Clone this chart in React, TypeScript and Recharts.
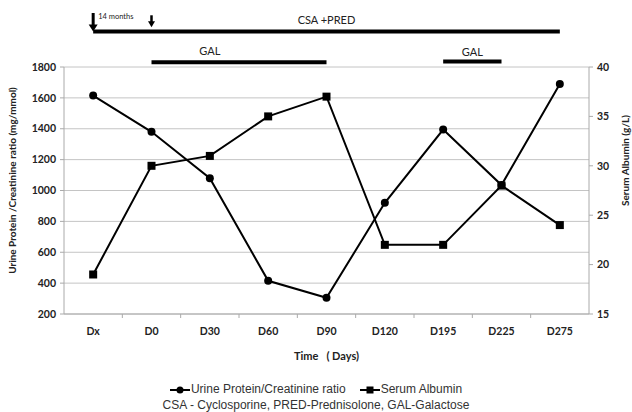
import React from 'react';
import {
  LineChart,
  Line,
  XAxis,
  YAxis,
  CartesianGrid,
  ReferenceLine,
  ReferenceDot,
  Legend,
} from 'recharts';

// time points and measured values
const days = ['Dx', 'D0', 'D30', 'D60', 'D90', 'D120', 'D195', 'D225', 'D275'];
const urineProtein = [1615, 1380, 1080, 415, 305, 920, 1395, 1035, 1690];
const serumAlbumin = [19, 30, 31, 35, 37, 22, 22, 28, 24];

const proteinTicks = [200, 400, 600, 800, 1000, 1200, 1400, 1600, 1800];
const albuminTicks = [15, 20, 25, 30, 35, 40];

// treatment bars drawn above the plot (level is in urine protein units)
const therapyBars = [
  { name: 'CSA +PRED', from: 'Dx', to: 'D275', level: 2030, labelAt: 'D90' },
  { name: 'GAL', from: 'D0', to: 'D90', level: 1830, labelAt: 'D30' },
  { name: 'GAL', from: 'D195', to: 'D225', level: 1835, labelAt: '' },
];

const arrows = [
  { at: 'Dx', top: 2150, tip: 2030, note: '14 months', heavy: true },
  { at: 'D0', top: 2135, tip: 2058, note: '', heavy: false },
];

const caption = 'CSA - Cyclosporine, PRED-Prednisolone, GAL-Galactose';

const seriesInfo = [
  { key: 'protein', name: 'Urine Protein/Creatinine ratio', marker: 'circle' },
  { key: 'albumin', name: 'Serum Albumin', marker: 'square' },
];

const data = days.map((d, i) => ({
  day: d,
  protein: urineProtein[i],
  albumin: serumAlbumin[i],
}));

const tickFont = { fontFamily: 'Lato, sans-serif', fontSize: 10.5, fontWeight: 700, fill: '#222' };

const SquareDot = (props: any) => {
  const { cx, cy } = props;
  if (cx == null || cy == null) return null;
  return <rect x={cx - 4} y={cy - 4} width={8} height={8} fill="#000" />;
};

const XTick = (props: any) => {
  const { x, y, payload, index, visibleTicksCount } = props;
  const half = payload.offset || 29;
  const axisY = y - 8;
  return (
    <g>
      <text x={x} y={y + 10} textAnchor="middle" dominantBaseline="middle" {...tickFont}>
        {payload.value}
      </text>
      {index < (visibleTicksCount ?? days.length) - 1 && (
        <line x1={x + half} x2={x + half} y1={axisY} y2={axisY + 4} stroke="#aaa" />
      )}
    </g>
  );
};

const makeArrow = (heavy: boolean, note: string) => (p: any) => {
  const { x1, y1, y2 } = p;
  const head = heavy ? 7 : 6;
  const hw = heavy ? 4.5 : 3.5;
  return (
    <g>
      <line x1={x1} x2={x1} y1={y1} y2={y2 - head + 1} stroke="#000" strokeWidth={heavy ? 3 : 2.5} />
      <polygon points={`${x1 - hw},${y2 - head} ${x1 + hw},${y2 - head} ${x1},${y2}`} fill="#000" />
      {note && (
        <text x={x1 + 5} y={y1 + 6} fontFamily="Lato, sans-serif" fontSize={7.5} fill="#222">
          {note}
        </text>
      )}
    </g>
  );
};

const LeftLabel = (props: any) => {
  const { viewBox } = props;
  const cx = viewBox.x - 11;
  const cy = viewBox.y + viewBox.height / 2 - 10;
  return (
    <text
      x={cx}
      y={cy}
      transform={`rotate(-90 ${cx} ${cy})`}
      textAnchor="middle"
      dominantBaseline="middle"
      fontFamily="Lato, sans-serif"
      fontSize={10}
      fontWeight={700}
      fill="#222"
    >
      Urine Protein /Creatinine ratio (mg/mmol)
    </text>
  );
};

const RightLabel = (props: any) => {
  const { viewBox } = props;
  const cx = viewBox.x + 37;
  const cy = viewBox.y + viewBox.height / 2 - 30;
  return (
    <text
      x={cx}
      y={cy}
      transform={`rotate(-90 ${cx} ${cy})`}
      textAnchor="middle"
      dominantBaseline="middle"
      fontFamily="Lato, sans-serif"
      fontSize={10}
      fontWeight={700}
      fill="#222"
    >
      Serum Albumin (g/L)
    </text>
  );
};

const LegendIcon = ({ marker }: { marker: string }) => (
  <svg width={20} height={10} style={{ verticalAlign: 'middle', marginRight: 1 }}>
    <line x1={0} x2={20} y1={5} y2={5} stroke="#000" strokeWidth={2} />
    {marker === 'circle' ? <circle cx={10} cy={5} r={3.5} fill="#000" /> : <rect x={6.5} y={1.5} width={7} height={7} fill="#000" />}
  </svg>
);

const LegendContent = () => (
  <div style={{ fontFamily: '"Liberation Sans", Arial, sans-serif', fontSize: 12, color: '#333', textAlign: 'center', lineHeight: '16px' }}>
    <div>
      {seriesInfo.map((s, i) => (
        <span key={s.key} style={{ marginLeft: i ? 14 : 0 }}>
          <LegendIcon marker={s.marker} />
          {s.name}
        </span>
      ))}
    </div>
    <div>{caption}</div>
  </div>
);

export default function App() {
  return (
    <div style={{ position: 'absolute', left: 0, top: 0, width: 632, height: 412, background: '#fff' }}>
      <LineChart width={632} height={412} data={data} margin={{ top: 67, right: 13, bottom: 68, left: 24 }}>
        <CartesianGrid yAxisId="left" horizontal vertical={false} stroke="#c4c4c4" />
        <XAxis
          dataKey="day"
          scale="band"
          height={30}
          stroke="#aaa"
          tickLine={false}
          tick={<XTick />}
          interval={0}
          label={{
            value: 'Time\u00a0\u00a0\u00a0( Days)',
            position: 'bottom',
            offset: 8,
            style: { fontFamily: 'Lato, sans-serif', fontSize: 11, fontWeight: 700, fill: '#222' },
          }}
        />
        <YAxis
          yAxisId="left"
          domain={[200, 1800]}
          ticks={proteinTicks}
          interval={0}
          width={40}
          stroke="#aaa"
          tickSize={4}
          tickMargin={4}
          tick={tickFont}
          label={<LeftLabel />}
        />
        <YAxis
          yAxisId="right"
          orientation="right"
          domain={[15, 40]}
          ticks={albuminTicks}
          interval={0}
          width={30}
          stroke="#aaa"
          tickSize={4}
          tickMargin={4}
          tick={tickFont}
          label={<RightLabel />}
        />

        {therapyBars.map((b, i) => (
          <ReferenceLine
            key={`bar-${i}`}
            yAxisId="left"
            ifOverflow="visible"
            segment={[{ x: b.from, y: b.level }, { x: b.to, y: b.level }]}
            stroke="#000"
            strokeWidth={4}
            label={
              b.labelAt
                ? undefined
                : { value: b.name, position: 'top', offset: 6, style: { fontFamily: 'Lato, sans-serif', fontSize: 11, fill: '#222' } }
            }
          />
        ))}
        {therapyBars
          .filter((b) => b.labelAt)
          .map((b, i) => (
            <ReferenceDot
              key={`lab-${i}`}
              yAxisId="left"
              x={b.labelAt}
              y={b.level}
              r={0}
              ifOverflow="visible"
              stroke="none"
              fill="none"
              label={{ value: b.name, position: 'top', offset: 7, style: { fontFamily: 'Lato, sans-serif', fontSize: 11, fill: '#222' } }}
            />
          ))}
        {arrows.map((a, i) => (
          <ReferenceLine
            key={`arrow-${i}`}
            yAxisId="left"
            ifOverflow="visible"
            segment={[{ x: a.at, y: a.top }, { x: a.at, y: a.tip }]}
            shape={makeArrow(a.heavy, a.note)}
          />
        ))}

        <Line
          yAxisId="left"
          dataKey="protein"
          name={seriesInfo[0].name}
          stroke="#000"
          strokeWidth={2}
          dot={{ r: 4, fill: '#000', stroke: '#000', strokeWidth: 0 }}
          isAnimationActive={false}
        />
        <Line
          yAxisId="right"
          dataKey="albumin"
          name={seriesInfo[1].name}
          stroke="#000"
          strokeWidth={2}
          dot={<SquareDot />}
          isAnimationActive={false}
        />
        <Legend
          layout="horizontal"
          verticalAlign="middle"
          align="center"
          content={<LegendContent />}
          wrapperStyle={{ position: 'absolute', top: 381, left: 0, width: 632 }}
        />
      </LineChart>
    </div>
  );
}
